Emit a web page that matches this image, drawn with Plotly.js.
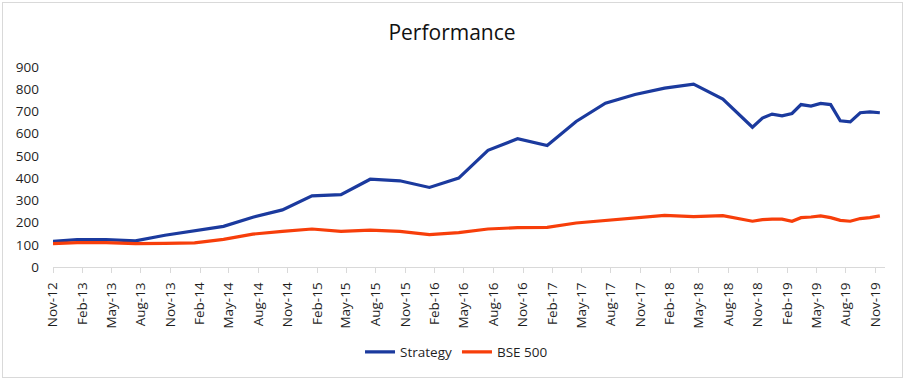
<!DOCTYPE html>
<html>
<head>
<meta charset="utf-8">
<script src="https://cdn.plot.ly/plotly-3.0.1.min.js"></script>
<style>
  html, body { margin: 0; padding: 0; background: #fff; }
  #wrap { position: relative; width: 904px; height: 379px; }
  #chart { position: absolute; left: 0; top: 0; width: 904px; height: 379px; }
  #frame { position: absolute; left: 2px; top: 2px; width: 899px; height: 374px;
           border: 1px solid #d9d9d9; pointer-events: none; }
</style>
</head>
<body>
<div id="wrap"><div id="chart"></div><div id="frame"></div></div>
<script>
const dates = [
  '2012-11-01','2013-01-15','2013-04-15','2013-07-15','2013-10-15',
  '2014-01-15','2014-04-15','2014-07-15','2014-10-15',
  '2015-01-15','2015-04-15','2015-07-15','2015-10-15',
  '2016-01-15','2016-04-15','2016-07-15','2016-10-15',
  '2017-01-15','2017-04-15','2017-07-15','2017-10-15',
  '2018-01-15','2018-04-15','2018-07-15','2018-10-15',
  '2018-11-15','2018-12-15','2019-01-15','2019-02-15','2019-03-15',
  '2019-04-15','2019-05-15','2019-06-15','2019-07-15','2019-08-15',
  '2019-09-15','2019-10-15','2019-11-15'
];
const strategy = [
  115, 123, 123, 118, 143,
  163, 183, 224, 257,
  320, 326, 395, 388,
  358, 400, 525, 577,
  547, 655, 737, 776,
  805, 823, 756, 629,
  670, 688, 680, 691, 731,
  724, 736, 731, 658, 653,
  694, 698, 694
];
const bse500 = [
  105, 110, 110, 105, 106,
  109, 124, 148, 160,
  171, 160, 166, 160,
  146, 155, 171, 177,
  178, 198, 209, 219,
  232, 227, 231, 206,
  213, 215, 215, 206, 222,
  225, 230, 222, 210, 206,
  218, 222, 230
];
const seriesNames = ['Strategy', 'BSE 500'];
const chartTitle = 'Performance';
const xRange = ['2012-11-01', '2019-12-01'];
const yRange = [0, 900];

const tickFont = { family: 'Open Sans, sans-serif', size: 13.5, color: '#1f1f1f' };

const traces = [
  { x: dates, y: strategy, name: seriesNames[0], type: 'scatter', mode: 'lines',
    line: { color: '#1B3A9E', width: 3.2 } },
  { x: dates, y: bse500, name: seriesNames[1], type: 'scatter', mode: 'lines',
    line: { color: '#F73E0A', width: 3.2 } }
];

const layout = {
  width: 904, height: 379,
  margin: { l: 53, r: 19, t: 67, b: 112, pad: 0 },
  paper_bgcolor: '#ffffff', plot_bgcolor: '#ffffff',
  title: { text: chartTitle, x: 0.5, xref: 'container', xanchor: 'center',
           y: 1 - 33 / 379, yref: 'container', yanchor: 'middle',
           font: { family: 'Open Sans, sans-serif', size: 21, color: '#111111' } },
  xaxis: {
    type: 'date', range: xRange, autorange: false,
    tick0: '2012-11-01', dtick: 'M3', tickformat: '%b-%y', tickangle: -90,
    ticks: 'outside', ticklen: 5, tickcolor: '#d9d9d9', tickwidth: 1,
    showline: true, linecolor: '#d9d9d9', linewidth: 1,
    showgrid: false, zeroline: false, tickfont: tickFont, ticklabelstandoff: 4
  },
  yaxis: {
    range: yRange, autorange: false, dtick: 100, tick0: 0,
    showgrid: false, showline: false, zeroline: false, ticks: '',
    tickfont: tickFont, ticklabelstandoff: 13
  },
  showlegend: true,
  legend: {
    orientation: 'h', xref: 'container', x: 0.505, xanchor: 'center',
    yref: 'container', y: 1 - 352 / 379, yanchor: 'middle',
    font: { family: 'Open Sans, sans-serif', size: 13.5, color: '#1f1f1f' },
    bgcolor: 'rgba(0,0,0,0)'
  }
};

Plotly.newPlot('chart', traces, layout, { displayModeBar: false, staticPlot: true });
</script>
</body>
</html>
